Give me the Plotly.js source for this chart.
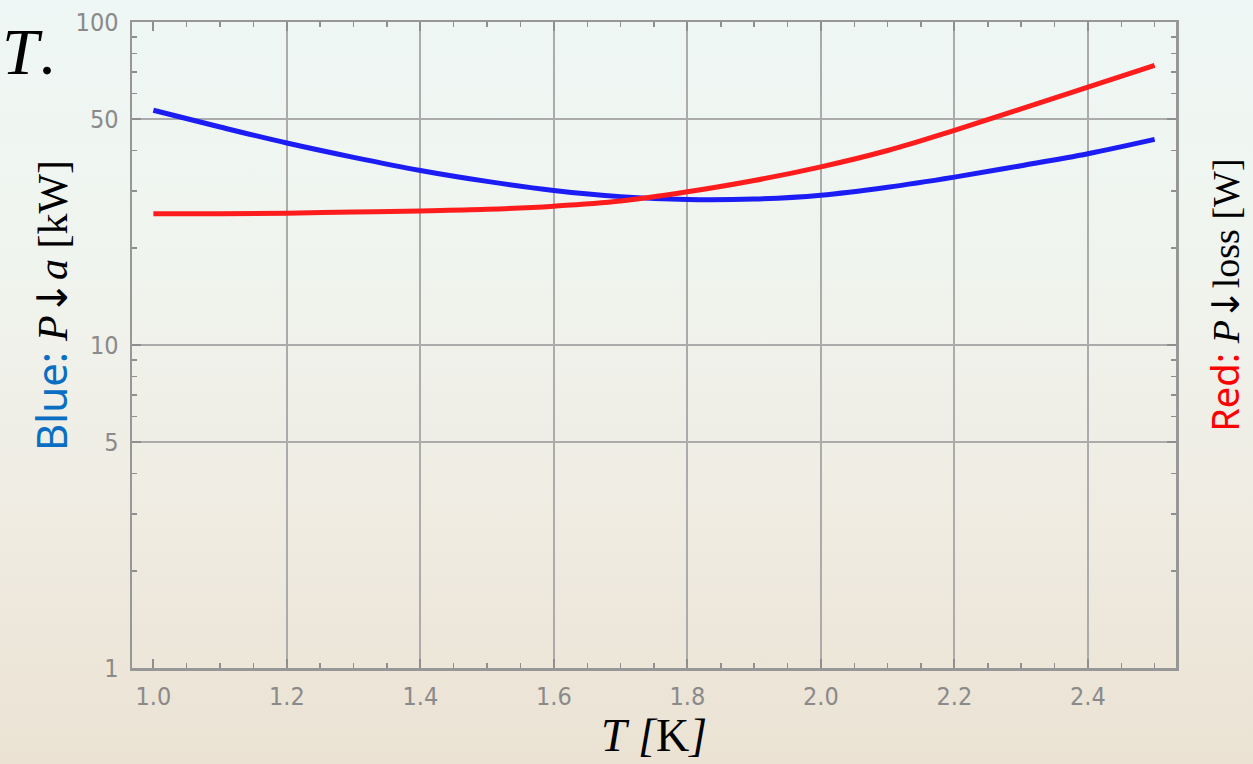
<!DOCTYPE html>
<html>
<head>
<meta charset="utf-8">
<script src="https://cdn.plot.ly/plotly-3.0.1.min.js"></script>
<style>
html,body{margin:0;padding:0;width:1253px;height:764px;overflow:hidden;
background:linear-gradient(to bottom,#eef7f5 0%,#f0f4ee 35%,#efebe1 70%,#ebe2d3 100%);}
#chart{width:1253px;height:764px;}
</style>
</head>
<body>
<div id="chart"></div>
<script>
// Temperature T [K]
const T = [1.0,1.1,1.2,1.3,1.4,1.5,1.6,1.7,1.8,1.9,2.0,2.1,2.2,2.3,2.4,2.5];
// Blue: P_a [kW]
const P_a = [53.3,47.3,42.2,38.1,34.7,32.1,30.1,28.8,28.2,28.3,29.1,30.8,33.1,35.9,39.1,43.3];
// Red: P_loss [W]
const P_loss = [25.5,25.5,25.6,25.8,26.0,26.3,26.9,27.9,29.8,32.3,35.6,40.0,46.2,53.8,62.9,73.4];

const xTickVals = [1.0,1.2,1.4,1.6,1.8,2.0,2.2,2.4];
const xTickText = ["1.0","1.2","1.4","1.6","1.8","2.0","2.2","2.4"];
const xGridVals = [1.2,1.4,1.6,1.8,2.0,2.2,2.4];
const yTickVals = [1,5,10,50,100];
const yTickText = ["1","5","10","50","100"];
const yMinorVals = [2,3,4,6,7,8,9,20,30,40,60,70,80,90];
const xMinorVals = [];
for (let i = 0; i <= 30; i++) { const v = +(1.0 + i*0.05).toFixed(2); if (v <= 2.5) xMinorVals.push(v); }

const XR = [0.968, 2.532];
const YR = [0, 2];
const tickFont = {family:"Liberation Sans Narrow, DejaVu Sans Condensed, Liberation Sans, Arial", size:25, color:"#8a8a8a"};
const serif = "Liberation Serif, DejaVu Serif, serif";
const arrowSpan = "<span style=\"font-family:'DejaVu Sans',sans-serif\">↓</span>";

const traces = [
  {x:T, y:P_a, type:"scatter", mode:"lines", line:{color:"rgb(28,28,245)", width:5, shape:"spline"}, name:"P_a", hoverinfo:"x+y"},
  {x:T, y:P_loss, type:"scatter", mode:"lines", xaxis:"x2", yaxis:"y2", line:{color:"rgb(255,28,28)", width:5, shape:"spline"}, name:"P_loss", hoverinfo:"x+y"}
];

const layout = {
  width:1253, height:764,
  margin:{l:132, r:77, t:22, b:96},
  paper_bgcolor:"rgba(0,0,0,0)",
  plot_bgcolor:"rgba(0,0,0,0)",
  showlegend:false,
  xaxis:{
    range:XR, tickmode:"array", tickvals:xTickVals, ticktext:xTickText,
    ticks:"inside", ticklen:9, tickwidth:2, tickcolor:"#8f8f8f",
    minor:{tickmode:"array", tickvals:xMinorVals, ticks:"inside", ticklen:5, tickwidth:1.5, tickcolor:"#8f8f8f", showgrid:false},
    showgrid:false, zeroline:false,
    showline:true, linecolor:"#979797", linewidth:2.5, mirror:"allticks",
    tickfont:tickFont, ticklabelstandoff:4,
    title:{text:"<i>T</i> <i>[</i>K<i>]</i>", font:{family:serif, size:46, color:"#000"}, standoff:8}
  },
  xaxis2:{
    overlaying:"x", anchor:"y2", range:XR, tickmode:"array", tickvals:xGridVals,
    showticklabels:false, ticks:"", showgrid:true, gridcolor:"#ababab", gridwidth:2,
    showline:false, zeroline:false
  },
  yaxis:{
    type:"log", range:YR, tickmode:"array", tickvals:yTickVals, ticktext:yTickText,
    ticks:"inside", ticklen:9, tickwidth:2, tickcolor:"#8f8f8f",
    minor:{tickmode:"array", tickvals:yMinorVals, ticks:"inside", ticklen:5, tickwidth:1.5, tickcolor:"#8f8f8f", showgrid:false},
    showgrid:true, gridcolor:"#ababab", gridwidth:2, zeroline:false,
    showline:true, linecolor:"#979797", linewidth:2.5, mirror:"allticks",
    tickfont:tickFont, ticklabelstandoff:6
  },
  yaxis2:{
    type:"log", range:YR, overlaying:"y", side:"right", anchor:"x2",
    showticklabels:false, ticks:"", showgrid:false, zeroline:false, showline:false
  },
  annotations:[
    {xref:"paper", yref:"paper", x:-0.1264, y:1.014, xanchor:"left", yanchor:"top",
     text:"<i>T</i>.", showarrow:false, font:{family:serif, size:66, color:"#000"}},
    {xref:"paper", yref:"paper", x:-0.0776, y:0.562, xanchor:"center", yanchor:"middle", textangle:-90,
     text:"<span style=\"font-family:'Noto Sans','Open Sans',sans-serif;color:#0a6fc2\">Blue: </span><i>P</i>" + arrowSpan + "<i>a</i> [kW]",
     showarrow:false, font:{family:serif, size:42, color:"#000"}},
    {xref:"paper", yref:"paper", x:1.0465, y:0.577, xanchor:"center", yanchor:"middle", textangle:-90,
     text:"<span style=\"font-family:'Noto Sans','Open Sans',sans-serif;color:#ff0000\">Red: </span><i>P</i>" + arrowSpan + "loss [W]",
     showarrow:false, font:{family:serif, size:38, color:"#000"}}
  ]
};

Plotly.newPlot("chart", traces, layout, {displayModeBar:false, staticPlot:true});
</script>
</body>
</html>
